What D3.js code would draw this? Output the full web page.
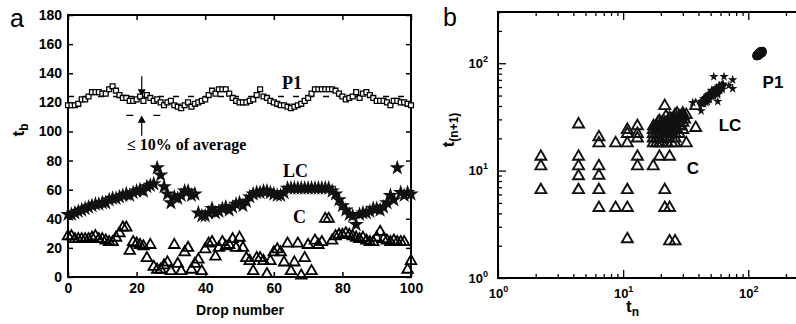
<!DOCTYPE html>
<html>
<head>
<meta charset="utf-8">
<script src="https://cdn.jsdelivr.net/npm/d3@7/dist/d3.min.js"></script>
<style>
  body { margin: 0; background: #fff; }
  svg { display: block; }
</style>
</head>
<body>
<svg id="chart" width="796" height="324"></svg>
<script>
// ---- data ----
const xTicksA = [0, 20, 40, 60, 80, 100];
const yTicksA = [0, 20, 40, 60, 80, 100, 120, 140, 160, 180];

const p1Values = [118, 118, 118, 119, 122, 122, 124, 127, 127, 127, 126, 126, 129, 131, 128, 125,
  123, 123, 121, 121, 122, 124, 121, 125, 123, 121, 122, 120, 118, 120, 121,
  118, 117, 116, 118, 120, 117, 119, 120, 121, 122, 125, 128, 126, 129, 129, 129, 126,
  123, 121, 120, 120, 120, 121, 122, 125, 129, 124, 123, 121, 120,
  119, 118, 118, 117, 116, 117, 118, 119, 121, 123, 126, 129, 129, 129, 129,
  129, 129, 128, 126, 124, 122, 123, 124, 127, 123, 126, 127, 125,
  123, 121, 121, 121, 120, 118, 121, 121, 120, 120, 119, 118];

const lcValues = [43, 43, 44, 45, 46, 47, 48, 49, 50, 50, 51, 51, 53, 54, 54, 55,
  56, 57, 56, 58, 59, 60, 59, 62, 63, 64, 75, 70, 62, 57, 51,
  55, 54, 56, 59, 59, 56, 57, 44, 42, 42, 44, 47, 44, 45, 47, 48,
  46, 48, 50, 51, 49, 52, 55, 57, 58, 58, 59, 59, 58, 57, 56,
  56, 58, 61, 61, 61, 61, 61, 61, 61, 61, 61, 61, 61, 61, 61,
  59, 57, 53, 49, 46, 43, 42, 36, 43, 44, 44, 45, 47, 47, 46, 48, 51,
  56, 53, 75, 58, 56, 58, 57];

const cValues = [28, 28, 26, 26, 26, 26, 26, 27, 28, 26, 26, 25, 24, 24,
  27, 30, 34, 34, 18, 24, 23, 22, 21, 13, 22,
  7, 5, 5, 8, 10, 4, 22, 9, 4, 17, 20, 5, 9, 12, 4,
  19, 23, 24, 14, 20, 24, 21, 22, 26, 20,
  27, 20, 13, 11, 4, 13, 13, 11, 2, 11,
  17, 19, 17, 10, 23, 4, 10, 23, 1, 13,
  22, 4, 25, 22, 24, 40, 40, 25, 28, 29,
  29, 30, 29, 28, 27, 26, 27, 25, 24, 24,
  27, 31, 26, 25, 24, 25, 24, 24, 24, 5, 11];

const p1Average = 124;
const p1Lower = 111;

// return map of the chaotic regime, [t_n, t_(n+1)]
const cReturnMap = [
  [2.2, 13.5], [2.2, 11], [2.2, 6.6],
  [4.4, 27], [4.4, 13.5], [4.4, 11], [4.4, 8.9], [4.4, 6.6],
  [6.4, 20.5], [6.4, 18], [6.4, 11], [6.4, 9], [6.4, 6.6], [6.4, 4.5],
  [8.7, 18], [8.7, 4.5],
  [10.8, 24], [10.8, 22], [10.8, 18], [10.8, 6.6], [10.8, 4.5], [10.8, 2.3],
  [13, 26], [13, 22], [13, 20], [13, 13.5], [13, 11],
  [17.4, 11], [17.4, 20], [17.4, 22], [17.4, 24], [17.5, 26],
  [19.5, 13.5], [19.5, 18], [19.5, 22], [19.5, 26], [19.5, 29],
  [21.5, 40], [21.5, 6.6], [21.5, 4.5], [21.5, 20], [21.5, 24], [21.5, 28],
  [23.5, 13.5], [23.5, 4.5], [23.5, 2.2], [23.5, 22], [23.5, 26], [23.5, 31],
  [26, 2.2], [26, 18], [26, 20], [26, 24], [26, 28], [26, 33],
  [28, 22], [28, 26], [28, 30], [30, 24], [30, 28], [30, 34],
  [32, 33], [32, 18], [38, 25], [38, 40],
  [18.5, 20], [20.5, 20], [22.5, 20], [24.5, 22], [18.5, 24], [20.5, 26], [22.5, 24],
  [24.5, 26], [25, 30], [27, 24], [29, 32], [19, 28], [22, 32], [27, 34],
  [17.4, 18], [18.5, 18], [20.5, 18], [22.5, 18], [24.5, 18],
  [18.5, 22], [18.5, 26], [19.5, 24], [20.5, 22], [20.5, 24], [20.5, 28],
  [21.5, 22], [21.5, 26], [22.5, 22], [22.5, 26], [22.5, 28], [23.5, 24], [23.5, 28],
  [24.5, 24], [24.5, 28], [24.5, 30], [25, 26], [26, 22], [26, 26], [26, 30],
  [27, 28], [27, 30], [28, 28], [28, 32], [29, 26], [29, 30], [30, 32], [31, 30]
];

const logTicksB = [1, 10, 100];

// ---- drawing ----
const svg = d3.select('#chart');
const sans = 'Liberation Sans, Arial, sans-serif';
const serif = 'Liberation Serif, Times New Roman, serif';

// panel a
const xA = d3.scaleLinear().domain([0, 100]).range([68, 411]);
const yA = d3.scaleLinear().domain([0, 180]).range([277, 15]);

function styleAxis(g) {
  g.select('.domain').remove();
  g.selectAll('.tick line').attr('stroke', '#000').attr('stroke-width', 1.5);
  g.selectAll('.tick text').attr('font-family', sans).attr('font-weight', 'bold').attr('font-size', 14).attr('fill', '#000');
}

svg.append('g').attr('transform', 'translate(0,277)')
  .call(d3.axisBottom(xA).tickValues(xTicksA).tickSize(-5).tickPadding(6)).call(styleAxis);
svg.append('g').attr('transform', 'translate(0,15)')
  .call(d3.axisTop(xA).tickValues(xTicksA).tickSize(-5).tickFormat('')).call(styleAxis);
svg.append('g').attr('transform', 'translate(68,0)')
  .call(d3.axisLeft(yA).tickValues(yTicksA).tickSize(-5).tickPadding(6)).call(styleAxis);
svg.append('g').attr('transform', 'translate(411,0)')
  .call(d3.axisRight(yA).tickValues(yTicksA).tickSize(-5).tickFormat('')).call(styleAxis);

svg.append('rect')
  .attr('x', xA(0)).attr('y', yA(180))
  .attr('width', xA(100) - xA(0)).attr('height', yA(0) - yA(180))
  .attr('fill', 'none').attr('stroke', '#000').attr('stroke-width', 2);

// average line and 10% band
svg.append('line')
  .attr('x1', xA(0)).attr('x2', xA(100)).attr('y1', yA(p1Average)).attr('y2', yA(p1Average))
  .attr('stroke', '#000').attr('stroke-width', 1.3).attr('stroke-dasharray', '6,9');
svg.append('line')
  .attr('x1', xA(17)).attr('x2', xA(27)).attr('y1', yA(p1Lower)).attr('y2', yA(p1Lower))
  .attr('stroke', '#000').attr('stroke-width', 1.3).attr('stroke-dasharray', '7,20');

function arrow(xv, fromV, tipV) {
  const dir = tipV > fromV ? 1 : -1;
  const x = xA(xv);
  svg.append('line').attr('x1', x).attr('x2', x).attr('y1', yA(fromV)).attr('y2', yA(tipV - dir * 3))
    .attr('stroke', '#000').attr('stroke-width', 1.2);
  const p = d3.path();
  p.moveTo(x, yA(tipV));
  p.lineTo(x - 4, yA(tipV - dir * 5));
  p.lineTo(x + 4, yA(tipV - dir * 5));
  p.closePath();
  svg.append('path').attr('d', p.toString()).attr('fill', '#000');
}
arrow(21.5, 138, p1Average);
arrow(21.5, 97, p1Lower);

const sq = d3.symbol().type(d3.symbolSquare).size(24);
const star = d3.symbol().type(d3.symbolStar).size(75);
const tri = d3.symbol().type(d3.symbolTriangle).size(48);

svg.append('g').selectAll('path').data(cValues).join('path')
  .attr('d', tri)
  .attr('transform', (d, i) => `translate(${xA(i)},${yA(d)})`)
  .attr('fill', 'none').attr('stroke', '#000').attr('stroke-width', 1.8);

svg.append('g').selectAll('path').data(lcValues).join('path')
  .attr('d', star)
  .attr('transform', (d, i) => `translate(${xA(i)},${yA(d)})`)
  .attr('fill', '#111');

svg.append('g').selectAll('path').data(p1Values).join('path')
  .attr('d', sq)
  .attr('transform', (d, i) => `translate(${xA(i)},${yA(d)})`)
  .attr('fill', '#fff').attr('stroke', '#000').attr('stroke-width', 1.3);

svg.append('text').attr('x', 282).attr('y', 89).text('P1')
  .attr('font-family', serif).attr('font-weight', 'bold').attr('font-size', 18);
svg.append('text').attr('x', 283).attr('y', 177).text('LC')
  .attr('font-family', serif).attr('font-weight', 'bold').attr('font-size', 18);
svg.append('text').attr('x', 293).attr('y', 223).text('C')
  .attr('font-family', serif).attr('font-weight', 'bold').attr('font-size', 18);
svg.append('text').attr('x', 127).attr('y', 150).text('\u2264 10% of average')
  .attr('font-family', serif).attr('font-weight', 'bold').attr('font-size', 16);

svg.append('text').attr('x', 240).attr('y', 315).attr('text-anchor', 'middle').text('Drop number')
  .attr('font-family', sans).attr('font-weight', 'bold').attr('font-size', 14);

const tbLabel = svg.append('text').attr('transform', 'translate(24,130) rotate(-90)')
  .attr('text-anchor', 'middle').attr('font-family', sans).attr('font-weight', 'bold').attr('font-size', 17);
tbLabel.append('tspan').text('t');
tbLabel.append('tspan').attr('font-size', 12).attr('dy', 4).text('b');

svg.append('text').attr('x', 10).attr('y', 27).text('a')
  .attr('font-family', sans).attr('font-size', 25);

// panel b
const xB = d3.scaleLog().domain([1, 300]).range([498, 808]);
const yB = d3.scaleLog().domain([1, 300]).range([278, 12]);
const isMajor = d => logTicksB.includes(d);

function logAxis(g, labelled) {
  g.select('.domain').remove();
  g.selectAll('.tick line').attr('stroke', '#000').attr('stroke-width', 1.3);
  g.selectAll('.tick text').text('');
  if (!labelled) return;
  g.selectAll('.tick text').each(function (d) {
    if (!isMajor(d)) return;
    const t = d3.select(this).attr('font-family', sans).attr('font-weight', 'bold').attr('font-size', 13).attr('fill', '#000');
    t.append('tspan').text('10');
    t.append('tspan').attr('font-size', 9).attr('dy', -6).text(Math.round(Math.log10(d)));
  });
}

const gBottom = svg.append('g').attr('transform', 'translate(0,278)')
  .call(d3.axisBottom(xB).tickSize(-4).tickPadding(11)).call(g => logAxis(g, true));
gBottom.selectAll('.tick line').attr('y2', d => isMajor(d) ? -8 : -4);
const gTop = svg.append('g').attr('transform', 'translate(0,12)')
  .call(d3.axisTop(xB).tickSize(-4)).call(g => logAxis(g, false));
gTop.selectAll('.tick line').attr('y2', d => isMajor(d) ? 8 : 4);
const gLeft = svg.append('g').attr('transform', 'translate(498,0)')
  .call(d3.axisLeft(yB).tickSize(-4).tickPadding(10)).call(g => logAxis(g, true));
gLeft.selectAll('.tick line').attr('x2', d => isMajor(d) ? 8 : 4);

svg.append('rect')
  .attr('x', xB(1)).attr('y', yB(300))
  .attr('width', xB(300) - xB(1)).attr('height', yB(1) - yB(300))
  .attr('fill', 'none').attr('stroke', '#000').attr('stroke-width', 2);

const p1Pairs = d3.pairs(p1Values);
const lcPairs = d3.pairs(lcValues);
const starSmall = d3.symbol().type(d3.symbolStar).size(28);
const triB = d3.symbol().type(d3.symbolTriangle).size(52);

svg.append('g').selectAll('path').data(cReturnMap).join('path')
  .attr('d', triB)
  .attr('transform', d => `translate(${xB(d[0])},${yB(d[1])})`)
  .attr('fill', 'none').attr('stroke', '#111').attr('stroke-width', 1.9);

svg.append('g').selectAll('path').data(lcPairs).join('path')
  .attr('d', starSmall)
  .attr('transform', d => `translate(${xB(d[0])},${yB(d[1])})`)
  .attr('fill', '#111');

svg.append('g').selectAll('circle').data(p1Pairs).join('circle')
  .attr('cx', d => xB(d[0])).attr('cy', d => yB(d[1])).attr('r', 4)
  .attr('fill', '#111');

svg.append('text').attr('x', 773).attr('y', 88).attr('text-anchor', 'middle').text('P1')
  .attr('font-family', sans).attr('font-weight', 'bold').attr('font-size', 17);
svg.append('text').attr('x', 730).attr('y', 131).attr('text-anchor', 'middle').text('LC')
  .attr('font-family', sans).attr('font-weight', 'bold').attr('font-size', 17);
svg.append('text').attr('x', 693).attr('y', 174).attr('text-anchor', 'middle').text('C')
  .attr('font-family', sans).attr('font-weight', 'bold').attr('font-size', 17);

const tnLabel = svg.append('text').attr('x', 626).attr('y', 312)
  .attr('font-family', sans).attr('font-weight', 'bold').attr('font-size', 17);
tnLabel.append('tspan').text('t');
tnLabel.append('tspan').attr('font-size', 12).attr('dy', 4).text('n');

const tn1Label = svg.append('text').attr('transform', 'translate(454,130) rotate(-90)')
  .attr('text-anchor', 'middle').attr('font-family', sans).attr('font-weight', 'bold').attr('font-size', 17);
tn1Label.append('tspan').text('t');
tn1Label.append('tspan').attr('font-size', 12).attr('dy', 4).text('(n+1)');

svg.append('text').attr('x', 443).attr('y', 26).text('b')
  .attr('font-family', sans).attr('font-size', 25);
</script>
</body>
</html>
